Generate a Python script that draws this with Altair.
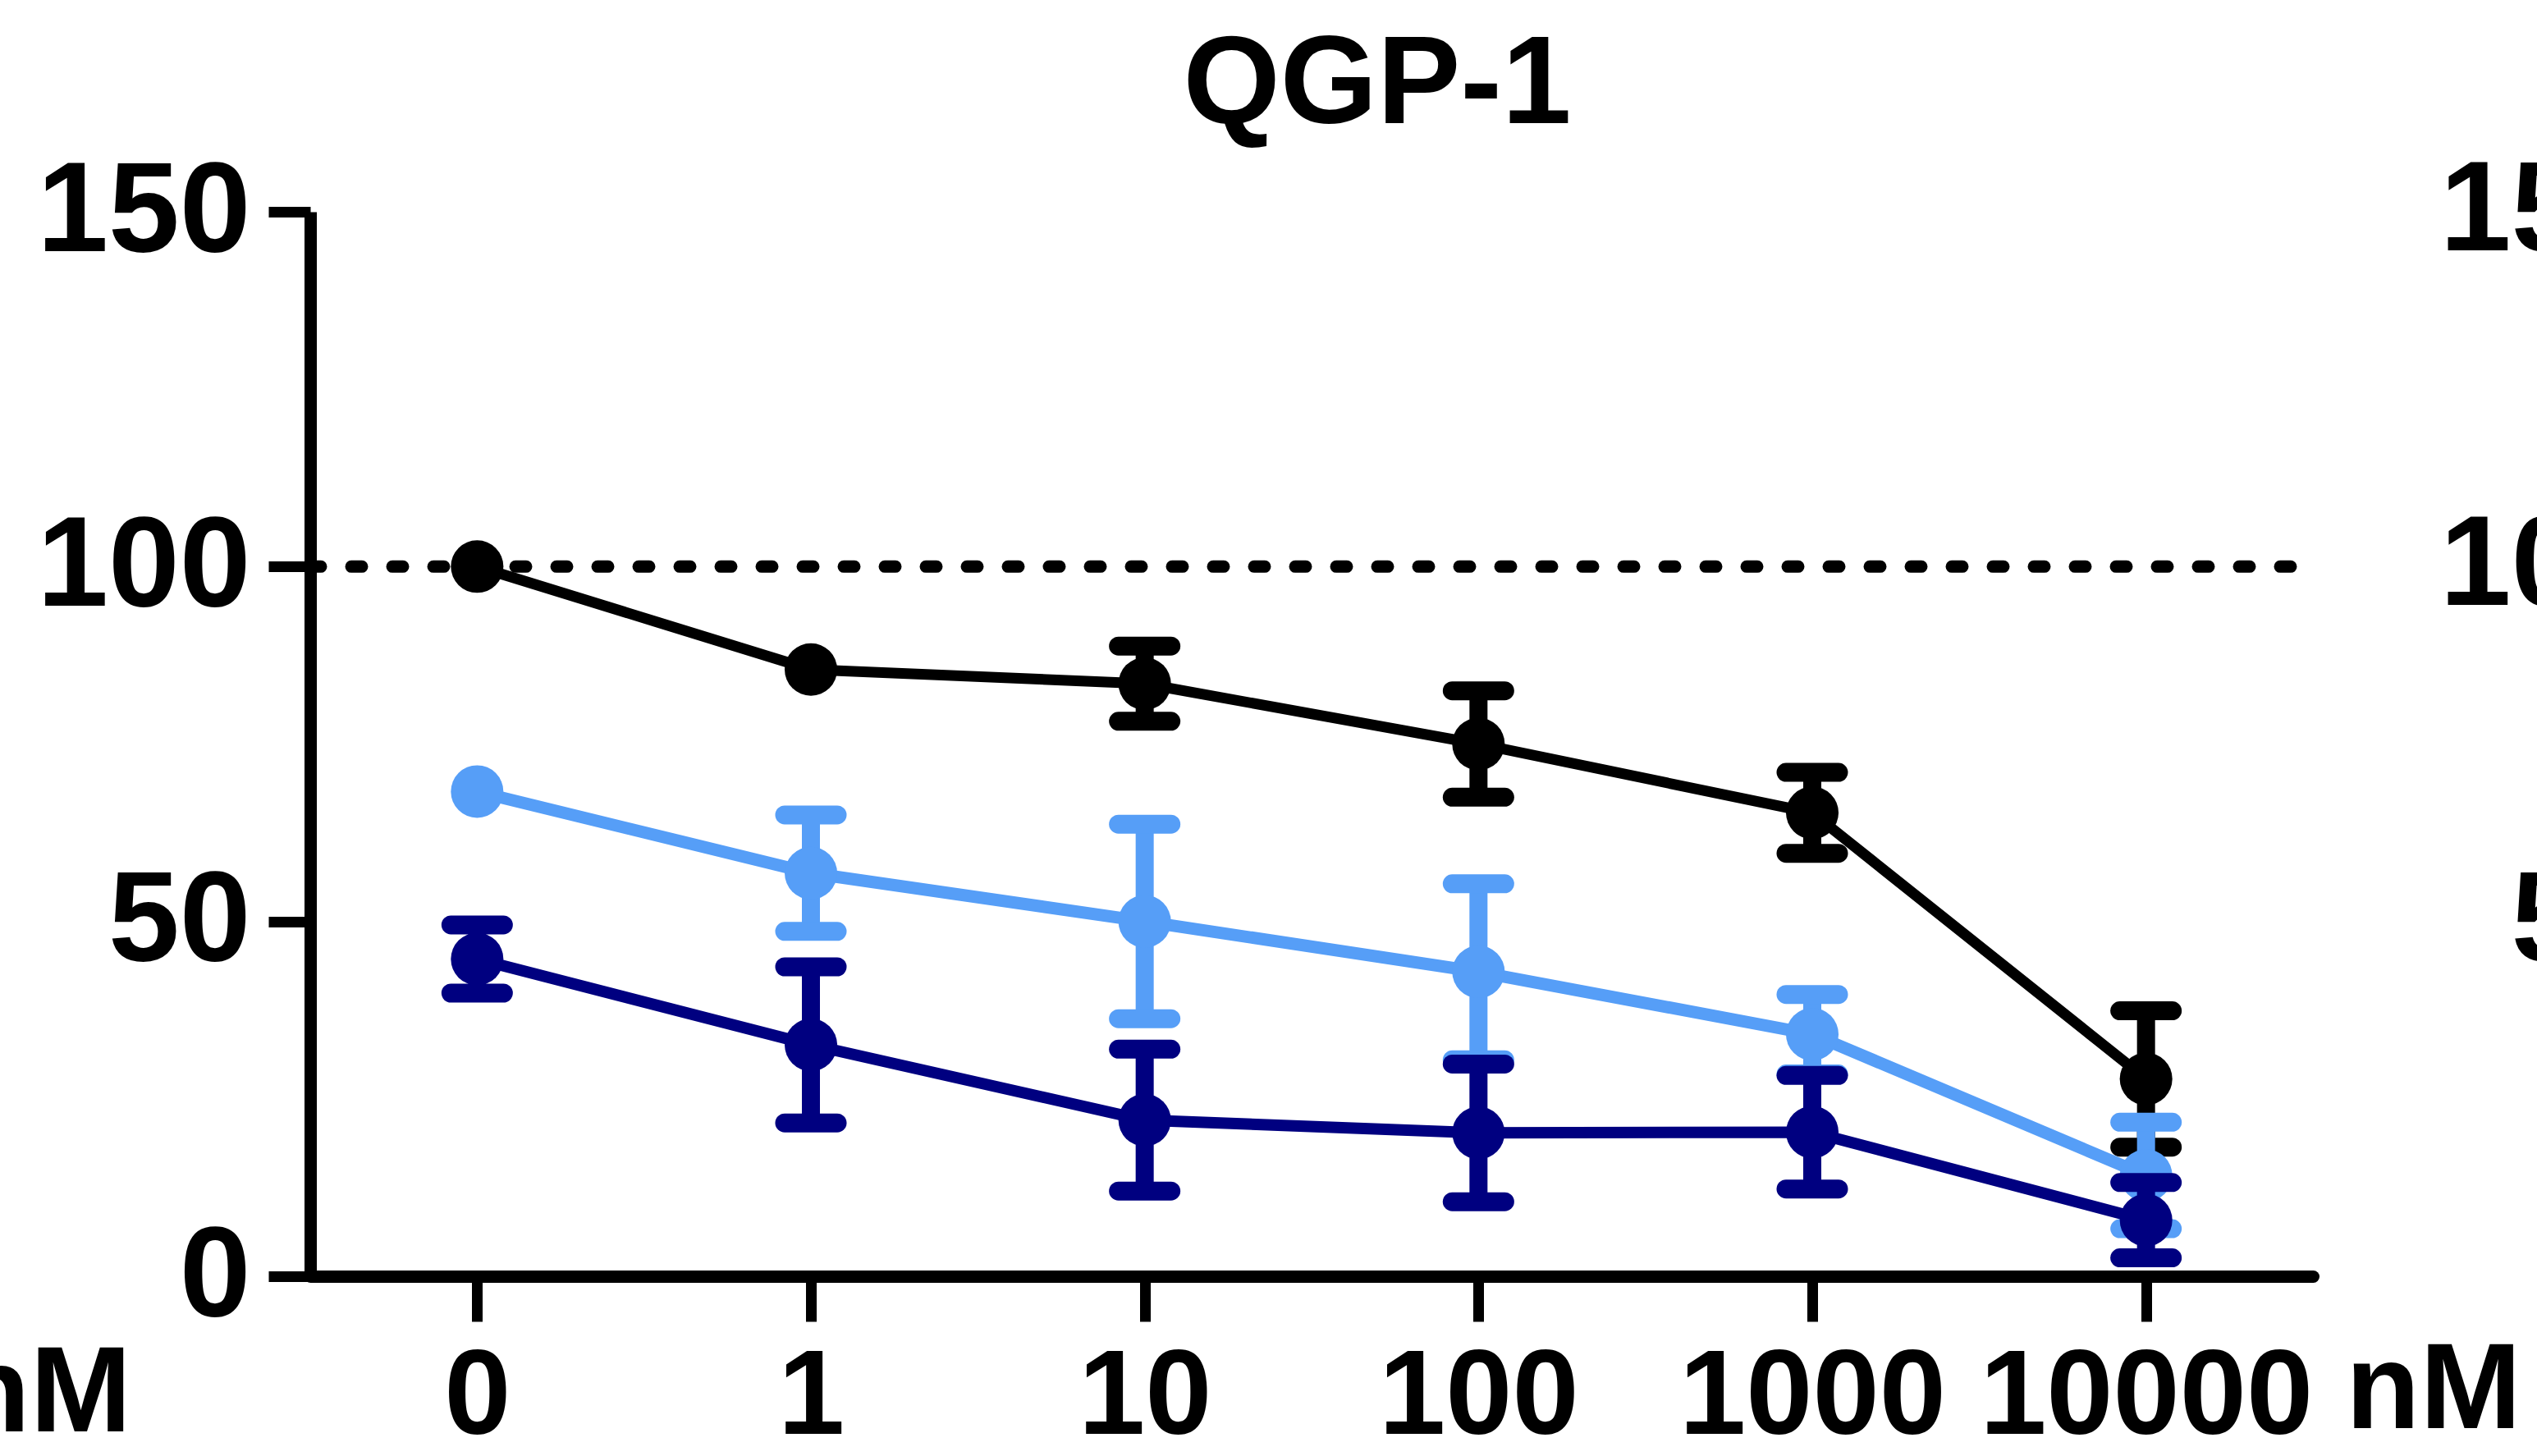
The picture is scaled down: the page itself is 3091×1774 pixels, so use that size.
import altair as alt
import pandas as pd

# ---- data ----
conc = ["0", "1", "10", "100", "1000", "10000"]
series_names = ["black", "lightblue", "navy"]
black_mean = [100.0, 85.5, 83.5, 75.0, 65.3, 27.8]
black_err = [0.0, 0.0, 5.3, 7.5, 5.7, 9.6]
light_mean = [68.3, 56.8, 50.0, 42.9, 34.1, 14.2]
light_err = [0.0, 8.2, 13.7, 12.4, 5.6, 7.5]
navy_mean = [44.7, 32.6, 22.0, 20.2, 20.3, 7.9]
navy_err = [4.8, 11.0, 10.0, 9.7, 8.0, 5.3]
colors = ["#000000", "#569EF7", "#000080"]
line_widths = [13, 15, 14]
ref_level = [100]
y_ticks = [0, 50, 100, 150]
title_text = "QGP-1"
unit_text = "nM"

rows = []
for name, means, errs in [("black", black_mean, black_err),
                          ("lightblue", light_mean, light_err),
                          ("navy", navy_mean, navy_err)]:
    for c, m, e in zip(conc, means, errs):
        rows.append({"series": name, "conc": c, "mean": m,
                     "lo": m - e, "hi": m + e, "err": e})
df = pd.DataFrame(rows)

W, H = 2440, 1297
FONT = "Liberation Sans"

x_scale = alt.Scale(type="point", domain=conc, padding=0.5)
y_scale = alt.Scale(domain=[0, 150], nice=False, zero=True)
color_scale = alt.Scale(domain=series_names, range=colors)

x_axis = alt.Axis(title=None, labelAngle=0, labelFontSize=146, labelFont=FONT,
                  labelFontWeight="bold", labelPadding=21, tickSize=55,
                  tickWidth=13, domainWidth=15, domainCap="round",
                  labelColor="black", tickColor="black", domainColor="black",
                  grid=False, labelLimit=0, labelOverlap=False)
y_axis = alt.Axis(title=None, values=y_ticks, labelFontSize=156, labelFont=FONT,
                  labelFontWeight="bold", labelPadding=22, tickSize=51,
                  tickWidth=13, domainWidth=15, labelColor="black",
                  tickColor="black", domainColor="black", grid=False,
                  labelLimit=0)

def X(field="conc"):
    return alt.X(f"{field}:N", scale=x_scale, axis=x_axis, sort=conc)

def Y(field):
    return alt.Y(f"{field}:Q", scale=y_scale, axis=y_axis)

color_enc = alt.Color("series:N", scale=color_scale, legend=None)

# dotted reference line at 100
ref_df = pd.DataFrame({"ref": ref_level})
ref_rule = alt.Chart(ref_df).mark_rule(
    color="black", strokeWidth=15, strokeDash=[13, 37], strokeCap="round"
).encode(
    x=alt.value(0), x2=alt.value(W), y=Y("ref")
)

layers = [ref_rule]
for name, lw in zip(series_names, line_widths):
    base = alt.Chart(df).transform_filter(alt.datum.series == name)
    errbase = base.transform_filter(alt.datum.err > 0)
    stem = errbase.mark_rule(strokeWidth=22).encode(
        x=X(), y=Y("lo"), y2="hi:Q", color=color_enc)
    cap_hi = errbase.mark_rule(strokeWidth=23, strokeCap="round",
                               xOffset=-32, x2Offset=32).encode(
        x=X(), x2="conc:N", y=Y("hi"), color=color_enc)
    cap_lo = errbase.mark_rule(strokeWidth=23, strokeCap="round",
                               xOffset=-32, x2Offset=32).encode(
        x=X(), x2="conc:N", y=Y("lo"), color=color_enc)
    line = base.mark_line(strokeWidth=lw).encode(
        x=X(), y=Y("mean"), color=color_enc)
    pts = base.mark_point(filled=True, opacity=1, size=4100, shape="circle").encode(
        x=X(), y=Y("mean"), color=color_enc)
    layers += [stem, cap_hi, cap_lo, line, pts]

# title text
title_df = pd.DataFrame({"t": [title_text]})
title_mark = alt.Chart(title_df).mark_text(
    font=FONT, fontWeight="bold", fontSize=152, align="center",
    baseline="alphabetic", color="black"
).encode(text="t:N", x=alt.value(1300), y=alt.value(-108))

# unit labels (this panel and the cut-off neighbour on the left)
unit_df = pd.DataFrame({"t": [unit_text]})
unit_right = alt.Chart(unit_df).mark_text(
    font=FONT, fontWeight="bold", fontSize=148, align="left",
    baseline="alphabetic", color="black"
).encode(text="t:N", x=alt.value(2480), y=alt.value(1482))
unit_left = alt.Chart(unit_df).mark_text(
    font=FONT, fontWeight="bold", fontSize=148, align="right",
    baseline="alphabetic", color="black"
).encode(text="t:N", x=alt.value(-218), y=alt.value(1486))

# neighbouring panel's y labels, cut off at the right edge
nb_df = pd.DataFrame({"v": y_ticks, "t": [str(v) for v in y_ticks]})
nb_labels = alt.Chart(nb_df).mark_text(
    font=FONT, fontWeight="bold", fontSize=156, align="right",
    baseline="middle", color="black"
).encode(text="t:N", x=alt.value(2855), y=Y("v"))

layers += [title_mark, unit_right, unit_left, nb_labels]

chart = alt.layer(*layers).properties(
    width=W, height=H,
    padding={"left": 378, "top": 258, "right": 273, "bottom": 219},
    autosize=alt.AutoSizeParams(type="none"),
    background="white",
).configure_view(stroke=None)

chart.save("out.html", embed_options={"renderer": "svg", "actions": False})
